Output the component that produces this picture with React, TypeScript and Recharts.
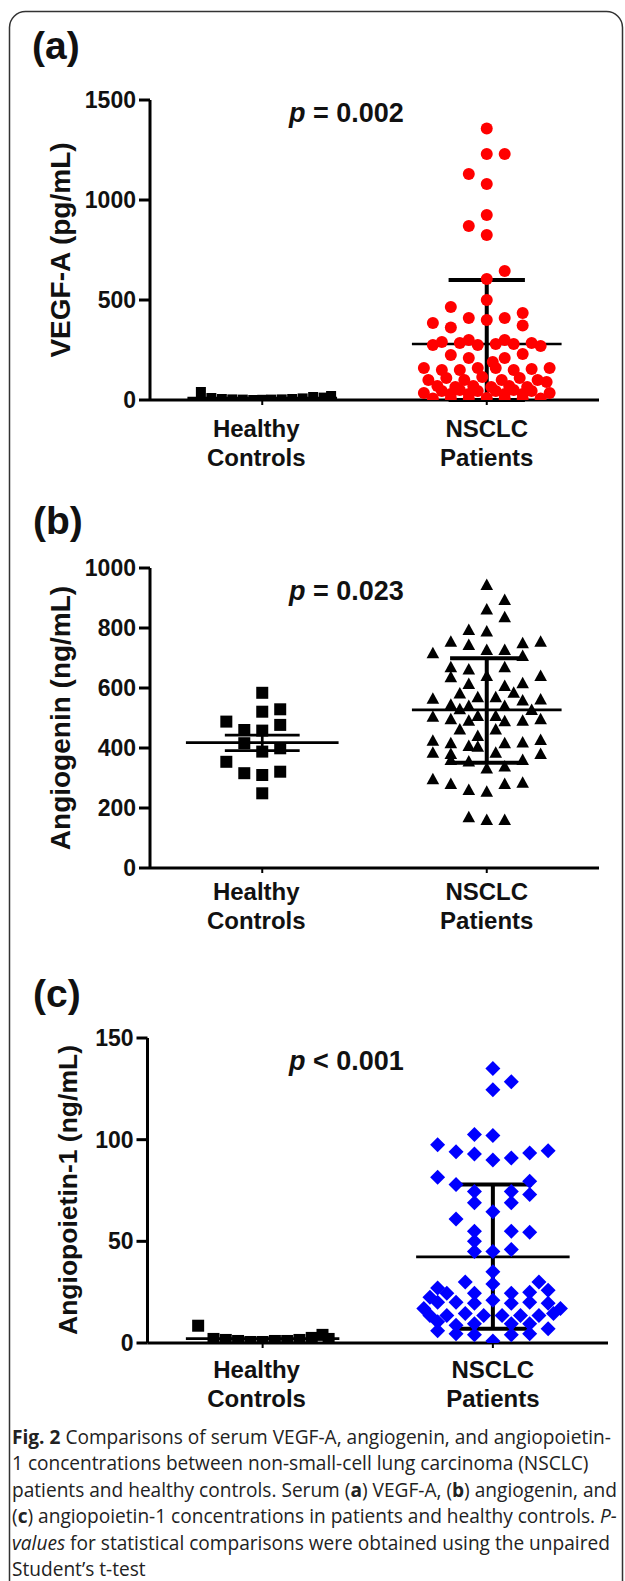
import React from 'react';
import { ScatterChart, Scatter, XAxis, YAxis, ReferenceLine } from 'recharts';

const FONT = '"Liberation Sans", Arial, Helvetica, sans-serif';
const CAP_FONT = '"Open Sans", sans-serif';
const INK = '#111';

// shared category axis (units: jitter columns)
const catPos = [0, 15];
const catLine1 = ['Healthy', 'NSCLC'];
const catLine2 = ['Controls', 'Patients'];
const xDomain: [number, number] = [-7.5, 22.5];

// ---------- Panel (a) VEGF-A (pg/mL) ----------
const vegfTicks = [0, 500, 1000, 1500];
const vegfHealthy: [number, number][] = [
  [-4.1, 40], [-3.4, 10], [-2.7, 5], [-2.0, 3], [-1.3, 2], [-0.6, 0], [0, 1],
  [0.6, 2], [1.3, 3], [2.0, 5], [2.7, 8], [3.4, 15], [4.1, 12], [4.6, 20],
];
const vegfNsclc: [number, number][] = [
  [0, 1358], [0, 1230], [1.2, 1230], [-1.2, 1130], [0, 1080], [0, 925], [-1.2, 870], [0, 825],
  [1.2, 645], [0, 605], [0, 500],
  [-2.4, 465], [-1.2, 410], [0, 400], [1.2, 410], [2.4, 435], [-3.6, 385], [-2.4, 363], [2.4, 372],
  [-3.6, 275], [-3.0, 290], [-1.8, 285], [-1.2, 300], [-0.6, 275], [0.6, 280], [1.2, 300], [1.8, 280], [3.0, 285], [3.6, 270],
  [-2.4, 225], [-1.2, 210], [0.4, 190], [1.2, 210], [2.4, 230],
  [-4.2, 160], [-3.0, 150], [-1.8, 150], [-0.6, 160], [0.6, 160], [1.8, 150], [3.0, 155], [4.2, 160],
  [-3.9, 100], [-2.7, 110], [-1.5, 100], [-0.3, 115], [1.0, 100], [2.2, 110], [3.4, 100], [4.0, 90],
  [-3.3, 70], [-2.1, 65], [-0.9, 70], [0.3, 65], [1.5, 70], [2.7, 65],
  [-4.2, 35], [-3.0, 45], [-2.4, 30], [-1.8, 50], [-1.2, 30], [-0.6, 45], [0.6, 45], [1.2, 30], [1.8, 50], [2.4, 30], [3.0, 45], [4.2, 35],
  [-3.6, 8], [-2.4, 8], [-1.2, 8], [0, 10], [1.2, 8], [2.4, 8], [3.6, 8],
];
const vegfMean = [10, 280];
const vegfLow = [5, 0];
const vegfHigh = [15, 600];

// ---------- Panel (b) Angiogenin (ng/mL) ----------
const angTicks = [0, 200, 400, 600, 800, 1000];
const angHealthy: [number, number][] = [
  [0, 584], [0, 521], [1.2, 529], [-2.4, 488], [-1.2, 460], [0, 458], [1.2, 477], [-1.2, 416],
  [0, 388], [1.2, 399], [-2.4, 354], [-1.2, 316], [0, 310], [1.2, 321], [0, 249],
];
const angNsclc: [number, number][] = [
  [0, 943], [1.2, 893], [0, 862], [1.2, 836], [-1.2, 793], [0, 788], [-2.4, 754], [-1.2, 743], [2.4, 749], [3.6, 754],
  [-3.6, 716], [0, 727], [1.2, 727], [2.4, 707],
  [-2.4, 669], [-1.2, 662], [1.2, 669], [0, 640], [-2.4, 636], [3.6, 640], [-1.2, 613], [1.2, 607], [2.4, 616],
  [-1.8, 582], [-0.6, 569], [0.6, 569], [1.8, 584], [-3.6, 564], [-2.4, 544], [2.4, 558], [3.6, 562],
  [-1.8, 529], [-1.2, 540], [1.2, 540], [3.0, 527],
  [-3.6, 504], [-2.4, 496], [-0.6, 507], [0.6, 507], [3.6, 496], [-1.2, 491], [1.2, 489], [2.4, 491],
  [-1.8, 462], [0.6, 462], [-0.6, 440],
  [-3.6, 424], [-2.4, 416], [-1.2, 407], [1.2, 416], [2.4, 418], [3.6, 427],
  [-3.6, 384], [-2.4, 380], [-0.6, 404], [0.6, 384], [3.6, 380],
  [-2.4, 360], [-1.2, 355], [0, 332], [1.2, 338], [2.4, 360],
  [-3.6, 296], [-2.4, 280], [-1.2, 260], [0, 254], [1.2, 280], [2.4, 284],
  [-1.2, 169], [0, 160], [1.2, 160],
];
const angMean = [418, 527];
const angLow = [391, 351];
const angHigh = [443, 699];

// ---------- Panel (c) Angiopoietin-1 (ng/mL) ----------
const angpTicks = [0, 50, 100, 150];
const angpHealthy: [number, number][] = [
  [-4.2, 8.5], [-3.2, 2], [-2.4, 1.5], [-1.6, 1], [-0.8, 0.5], [0, 0.5], [0.8, 1],
  [1.6, 1], [2.4, 1.5], [3.2, 2.5], [3.9, 4], [4.3, 2],
];
const angpNsclc: [number, number][] = [
  [0, 135], [1.2, 128.5], [0, 124.5], [-1.2, 102.5], [0, 102], [-3.6, 97.5], [-2.4, 94], [-1.2, 93], [0, 90], [1.2, 91], [2.4, 93.5], [3.6, 94.5],
  [-3.6, 81.5], [-2.4, 78], [2.4, 79.5], [-1.2, 74.5], [1.2, 74.5], [2.4, 73], [-1.2, 69], [1.2, 69], [0, 64.5], [-2.4, 61],
  [-1.2, 55], [1.2, 55], [2.4, 54.5], [-1.2, 50], [-1.2, 45], [0, 45], [1.2, 46], [0, 35],
  [-1.8, 30], [0, 29], [3.0, 30], [-3.6, 27], [3.6, 26], [-4.1, 22.5], [-3.0, 24.5], [-1.2, 24.5], [1.2, 24.5], [2.4, 25],
  [-4.5, 17], [-3.6, 20], [-2.4, 20], [-1.2, 19.5], [0, 21], [1.2, 19.5], [2.4, 20], [3.6, 19.5], [4.4, 17],
  [-4.1, 13.5], [-3.0, 13.5], [-1.8, 14.5], [-0.6, 13.5], [0.6, 13.5], [1.8, 13.5], [3.0, 13.5], [3.95, 14.5],
  [-3.6, 10.5], [-2.4, 8.7], [-1.2, 9.5], [1.2, 9.5], [2.4, 9.5],
  [-3.6, 6], [-2.4, 4.6], [-1.2, 4], [1.2, 4], [2.4, 4.6], [3.6, 7], [0, 1],
];
const angpMean = [2.2, 42.4];
const angpLow = [1.5, 7];
const angpHigh = [3, 78];

const toPts = (arr: [number, number][], cat: number) => arr.map(([j, v]) => ({ x: catPos[cat] + j, y: v }));

// marker shapes
const RedDot = (p: any) => <circle cx={p.cx} cy={p.cy} r={6} fill="#ff0000" />;
const makeSquare = (s: number) => (p: any) => (
  <rect x={p.cx - s / 2} y={p.cy - s / 2} width={s} height={s} fill="#000" />
);
const Tri = (p: any) => (
  <polygon points={`${p.cx},${p.cy - 6.5} ${p.cx + 6.3},${p.cy + 5} ${p.cx - 6.3},${p.cy + 5}`} fill="#000" />
);
const Diamond = (p: any) => (
  <polygon points={`${p.cx},${p.cy - 7.5} ${p.cx + 7.5},${p.cy} ${p.cx},${p.cy + 7.5} ${p.cx - 7.5},${p.cy}`} fill="#0000ff" />
);

const CatTick = (props: any) => {
  const { x, y, payload, dy0 } = props;
  const i = catPos.indexOf(payload.value);
  if (i < 0) return null;
  const dx = i === 0 ? -6 : 0;
  return (
    <text x={x + dx} y={y} textAnchor="middle" fontFamily={FONT} fontWeight="bold" fontSize={24} fill={INK}>
      <tspan x={x + dx} dy={dy0}>{catLine1[i]}</tspan>
      <tspan x={x + dx} dy={29}>{catLine2[i]}</tspan>
    </text>
  );
};

function summaryLines(mean: number[], low: number[], high: number[], meanHalf: number[], capHalf: number[], wMean: number, wBar: number) {
  const out: any[] = [];
  catPos.forEach((c, i) => {
    const k = `s${i}`;
    const w = i === 0 ? wMean : wBar;
    out.push(
      <ReferenceLine key={k + 'm'} ifOverflow="visible" segment={[{ x: c - meanHalf[i], y: mean[i] }, { x: c + meanHalf[i], y: mean[i] }]} stroke="#000" strokeWidth={wMean} />,
      <ReferenceLine key={k + 'v'} ifOverflow="visible" segment={[{ x: c, y: low[i] }, { x: c, y: high[i] }]} stroke="#000" strokeWidth={w} />,
      <ReferenceLine key={k + 'h'} ifOverflow="visible" segment={[{ x: c - capHalf[i], y: high[i] }, { x: c + capHalf[i], y: high[i] }]} stroke="#000" strokeWidth={w} />,
      <ReferenceLine key={k + 'l'} ifOverflow="visible" segment={[{ x: c - capHalf[i], y: low[i] }, { x: c + capHalf[i], y: low[i] }]} stroke="#000" strokeWidth={w} />,
    );
  });
  return out;
}

const axisCommon = {
  stroke: '#000',
  strokeWidth: 3,
};

type PanelProps = {
  top: number;
  height: number;
  margin: any;
  yTicks: number[];
  healthy: [number, number][];
  nsclc: [number, number][];
  healthyShape: any;
  nsclcShape: any;
  mean: number[];
  low: number[];
  high: number[];
  meanHalf: number[];
  capHalf: number[];
  labelDy: number;
};

const Panel = (p: PanelProps) => (
  <div style={{ position: 'absolute', left: 0, top: p.top }}>
    <ScatterChart width={625} height={p.height} margin={p.margin}>
      <XAxis
        type="number"
        dataKey="x"
        domain={xDomain}
        ticks={catPos}
        allowDataOverflow
        height={60}
        axisLine={axisCommon}
        tickLine={{ stroke: '#000', strokeWidth: 2 }}
        tickSize={5}
        tickMargin={0}
        tick={(tp: any) => <CatTick {...tp} dy0={p.labelDy} />}
        interval={0}
      />
      <YAxis
        type="number"
        dataKey="y"
        domain={[p.yTicks[0], p.yTicks[p.yTicks.length - 1]]}
        ticks={p.yTicks}
        allowDataOverflow
        width={60}
        axisLine={axisCommon}
        tickLine={{ stroke: '#000', strokeWidth: 3 }}
        tickSize={11}
        tickMargin={3}
        interval={0}
        tick={{ fontFamily: FONT, fontWeight: 'bold', fontSize: 23, fill: INK }}
      />
      <Scatter data={toPts(p.healthy, 0)} shape={p.healthyShape} isAnimationActive={false} />
      <Scatter data={toPts(p.nsclc, 1)} shape={p.nsclcShape} isAnimationActive={false} />
      {summaryLines(p.mean, p.low, p.high, p.meanHalf, p.capHalf, 2.7, 4)}
    </ScatterChart>
  </div>
);

const capY = [1444, 1470.4, 1496.8, 1523.2, 1549.6, 1576];

const Overlay = () => (
  <svg width={625} height={1581} style={{ position: 'absolute', left: 0, top: 0, pointerEvents: 'none' }}>
    <rect x={9.5} y={11.5} width={613} height={1620} rx={16} fill="none" stroke="#333" strokeWidth={1.5} />
    <g fontFamily={FONT} fontWeight="bold" fill={INK}>
      <text x={32} y={59} fontSize={39}>(a)</text>
      <text x={33} y={534} fontSize={39}>(b)</text>
      <text x={33} y={1007} fontSize={39}>(c)</text>
      <text x={289} y={122} fontSize={27}><tspan fontStyle="italic">p</tspan>{' = 0.002'}</text>
      <text x={289} y={600} fontSize={27}><tspan fontStyle="italic">p</tspan>{' = 0.023'}</text>
      <text x={289} y={1070} fontSize={27}><tspan fontStyle="italic">p</tspan>{' < 0.001'}</text>
      <text x={70} y={250} fontSize={28} textAnchor="middle" transform="rotate(-90 70 250)">VEGF-A (pg/mL)</text>
      <text x={70} y={718} fontSize={28} textAnchor="middle" transform="rotate(-90 70 718)">Angiogenin (ng/mL)</text>
      <text x={77} y={1190} fontSize={26.5} textAnchor="middle" transform="rotate(-90 77 1190)">Angiopoietin-1 (ng/mL)</text>
    </g>
    <g fontFamily={CAP_FONT} fontSize={19.1} fill="#222">
      <text x={12} y={capY[0]}><tspan fontWeight="bold">Fig. 2</tspan>{' Comparisons of serum VEGF-A, angiogenin, and angiopoietin-'}</text>
      <text x={12} y={capY[1]}>1 concentrations between non-small-cell lung carcinoma (NSCLC)</text>
      <text x={12} y={capY[2]}>{'patients and healthy controls. Serum ('}<tspan fontWeight="bold">a</tspan>{') VEGF-A, ('}<tspan fontWeight="bold">b</tspan>{') angiogenin, and'}</text>
      <text x={12} y={capY[3]}>{'('}<tspan fontWeight="bold">c</tspan>{') angiopoietin-1 concentrations in patients and healthy controls. '}<tspan fontStyle="italic">P-</tspan></text>
      <text x={12} y={capY[4]}><tspan fontStyle="italic">values</tspan>{' for statistical comparisons were obtained using the unpaired'}</text>
      <text x={12} y={capY[5]}>Student’s t-test</text>
    </g>
  </svg>
);

export default function App() {
  return (
    <div style={{ position: 'absolute', left: 0, top: 0, width: 625, height: 1581, background: '#fff', overflow: 'hidden' }}>
      <Panel
        top={0}
        height={480}
        margin={{ top: 100, right: 26, bottom: 20, left: 90 }}
        yTicks={vegfTicks}
        healthy={vegfHealthy}
        nsclc={vegfNsclc}
        healthyShape={makeSquare(10)}
        nsclcShape={RedDot}
        mean={vegfMean}
        low={vegfLow}
        high={vegfHigh}
        meanHalf={[5, 5]}
        capHalf={[0, 2.55]}
        labelDy={32}
      />
      <Panel
        top={480}
        height={460}
        margin={{ top: 88, right: 26, bottom: 12, left: 90 }}
        yTicks={angTicks}
        healthy={angHealthy}
        nsclc={angNsclc}
        healthyShape={makeSquare(12)}
        nsclcShape={Tri}
        mean={angMean}
        low={angLow}
        high={angHigh}
        meanHalf={[5.1, 5]}
        capHalf={[2.5, 2.45]}
        labelDy={27}
      />
      <Panel
        top={940}
        height={473}
        margin={{ top: 98, right: 17, bottom: 10, left: 87.5 }}
        yTicks={angpTicks}
        healthy={angpHealthy}
        nsclc={angpNsclc}
        healthyShape={makeSquare(12)}
        nsclcShape={Diamond}
        mean={angpMean}
        low={angpLow}
        high={angpHigh}
        meanHalf={[5, 5]}
        capHalf={[0, 2.55]}
        labelDy={30}
      />
      <Overlay />
    </div>
  );
}
